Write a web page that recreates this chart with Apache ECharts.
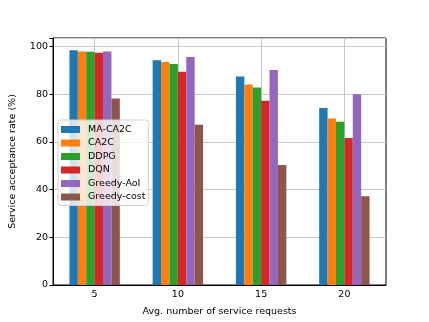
<!DOCTYPE html>
<html>
<head>
<meta charset="utf-8">
<script src="https://cdn.jsdelivr.net/npm/echarts@6/dist/echarts.min.js"></script>
<style>
  html, body { margin: 0; padding: 0; background: #fff; }
</style>
</head>
<body>
<div id="main" style="width: 429px; height: 322px;"></div>
<script>
var categories = ['5', '10', '15', '20'];
var maCa2c = [98.4, 94.2, 87.4, 74.2];
var ca2c = [97.8, 93.4, 84.0, 69.8];
var ddpg = [97.7, 92.6, 82.8, 68.4];
var dqn = [97.3, 89.4, 77.2, 61.6];
var greedyAoi = [97.8, 95.5, 90.1, 79.9];
var greedyCost = [78.1, 67.2, 50.3, 37.2];

var names = ['MA-CA2C', 'CA2C', 'DDPG', 'DQN', 'Greedy-AoI', 'Greedy-cost'];
var values = [maCa2c, ca2c, ddpg, dqn, greedyAoi, greedyCost];
var colors = ['#1f77b4', '#ff7f0e', '#2ca02c', '#d62728', '#9467bd', '#8c564b'];

var font = 'DejaVu Sans';

var myChart = echarts.init(document.getElementById('main'));
myChart.setOption({
    animation: false,
    color: colors,
    textStyle: { fontFamily: font },
    grid: {
        left: 53, right: 43, top: 38, bottom: 35,
        show: true, borderColor: '#000', borderWidth: 1, backgroundColor: 'transparent'
    },
    legend: {
        orient: 'vertical',
        left: 58, top: 120,
        itemWidth: 19, itemHeight: 7, itemGap: 2.5,
        padding: [4, 3, 3, 3],
        backgroundColor: 'rgba(255,255,255,0.8)',
        borderColor: '#d0d0d0', borderWidth: 1, borderRadius: 3,
        icon: 'rect',
        textStyle: { fontFamily: font, fontSize: 9.5, color: '#000', lineHeight: 11, padding: [0, 0, 0, 3] },
        data: names
    },
    xAxis: {
        type: 'category',
        data: categories,
        name: 'Avg. number of service requests',
        nameLocation: 'middle',
        nameGap: 22,
        nameTextStyle: { fontFamily: font, fontSize: 9.5, color: '#000' },
        axisLine: { lineStyle: { color: '#000', width: 1 } },
        axisTick: { alignWithLabel: true, length: 3.5, lineStyle: { color: '#000' } },
        axisLabel: { fontFamily: font, fontSize: 9.5, color: '#000', margin: 5 },
        splitLine: { show: true, alignWithLabel: true, lineStyle: { color: '#c8c8c8', width: 1 } }
    },
    yAxis: {
        type: 'value',
        min: 0, max: 103.5, interval: 20,
        name: 'Service acceptance rate (%)',
        nameLocation: 'middle',
        nameGap: 35,
        nameTextStyle: { fontFamily: font, fontSize: 9.5, color: '#000' },
        axisLine: { show: true, lineStyle: { color: '#000', width: 1 } },
        axisTick: { show: true, length: 3.5, lineStyle: { color: '#000' } },
        axisLabel: {
            fontFamily: font, fontSize: 9.5, color: '#000', margin: 5,
            formatter: function (v) { return v % 20 === 0 ? String(v) : ''; }
        },
        splitLine: { show: true, lineStyle: { color: '#c8c8c8', width: 1 } }
    },
    series: names.map(function (n, i) {
        return {
            name: n,
            type: 'bar',
            data: values[i],
            barWidth: 8.4,
            barGap: '0%'
        };
    })
});
</script>
</body>
</html>
